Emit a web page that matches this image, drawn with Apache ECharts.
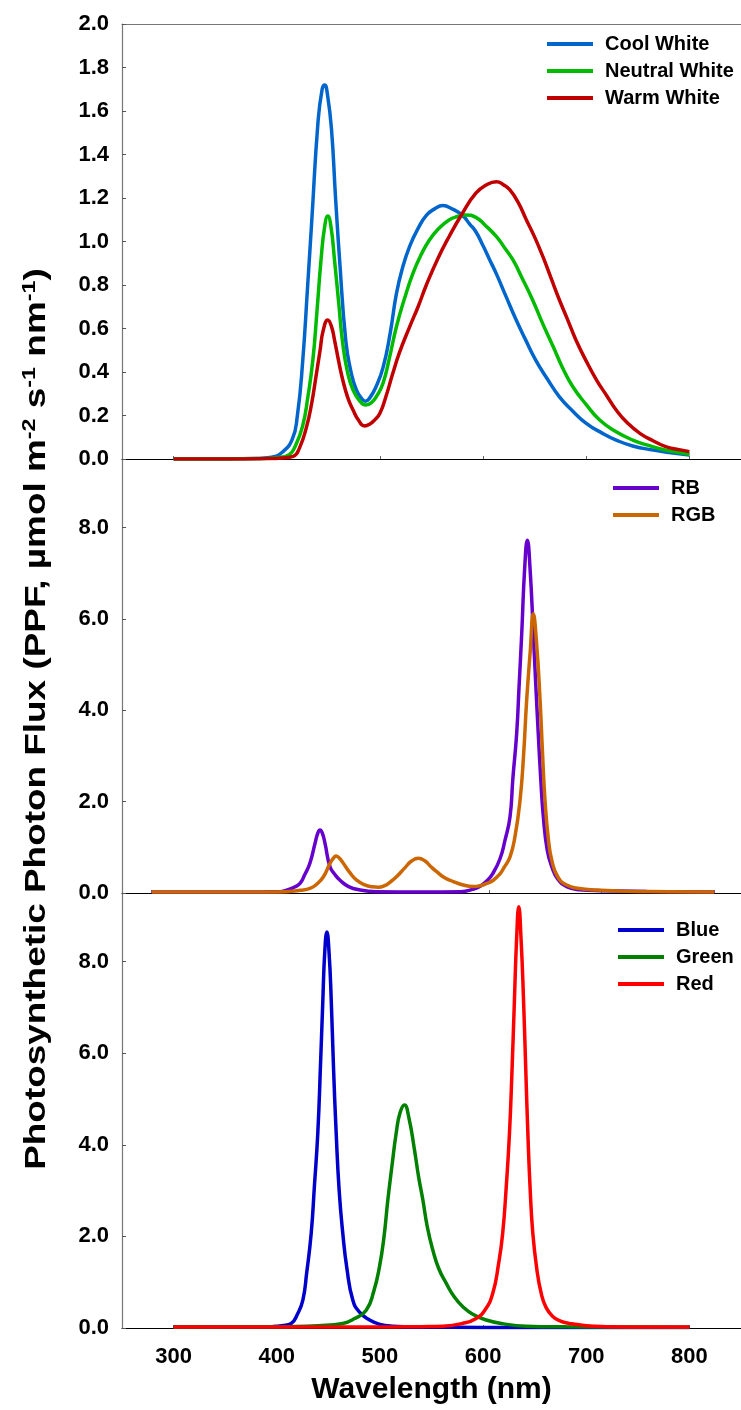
<!DOCTYPE html>
<html>
<head>
<meta charset="utf-8">
<title>LED spectra</title>
<script src="https://cdn.jsdelivr.net/npm/echarts@6/dist/echarts.min.js"></script>
<style>
  html, body { margin: 0; padding: 0; background: #fff; }
  #chart { width: 741px; height: 1410px; }
</style>
</head>
<body>
<div id="chart"></div>
<script>
// ---- Panel 1: white LEDs (wavelength nm / photon flux) ----
const coolWl  = [300,350,380,395,405,415,420,425,430,434,440,444,446.5,449,453,457,461,467,472,477,482,486,490,496,503,510,516,522,529,537,545,553,561,570,580,587,593,600,606,613,622,632,641,651,662,674,687,700,715,729,745,765,780,800];
const coolVal = [0,0,0.002,0.008,0.03,0.09,0.2,0.44,0.8,1.1,1.55,1.70,1.72,1.68,1.52,1.2,0.91,0.54,0.40,0.32,0.28,0.265,0.28,0.33,0.42,0.58,0.76,0.88,0.98,1.06,1.12,1.15,1.165,1.15,1.12,1.08,1.045,0.98,0.92,0.85,0.75,0.64,0.55,0.455,0.37,0.286,0.22,0.164,0.12,0.087,0.06,0.041,0.03,0.018];

const neutralWl  = [300,350,385,400,412,418,425,430,435,439,443,446.5,449.5,452.5,456,460,464,469,474,480,486.5,492,497,503,509,516,524,532,540,548,557,567,575,583,593,602,613,621,629,638,648,658,668,677,687,700,713,729,745,762,777,790,800];
const neutralVal = [0,0,0.002,0.006,0.02,0.06,0.15,0.28,0.455,0.68,0.92,1.07,1.117,1.07,0.915,0.72,0.53,0.39,0.317,0.27,0.248,0.26,0.29,0.348,0.46,0.608,0.74,0.854,0.94,1.007,1.06,1.099,1.115,1.122,1.111,1.075,1.022,0.97,0.915,0.83,0.731,0.62,0.516,0.42,0.332,0.25,0.179,0.125,0.087,0.06,0.041,0.03,0.022];

const warmWl  = [300,350,390,405,416,422,429,434,438,442,445,449.5,453,456,460,464,469,474,479,485,490,495,500,506,512.5,519,529,537,545,556,567,580,593,603,613,620,626,634,642,650,658,666,674,682,690,700,710,720,729,740,752,765,777,790,800];
const warmVal = [0,0,0.002,0.005,0.012,0.05,0.15,0.26,0.378,0.5,0.59,0.639,0.61,0.547,0.45,0.363,0.28,0.225,0.18,0.152,0.16,0.18,0.21,0.29,0.394,0.49,0.61,0.7,0.8,0.92,1.022,1.13,1.222,1.26,1.275,1.26,1.237,1.18,1.099,1.02,0.93,0.83,0.731,0.64,0.547,0.45,0.363,0.29,0.225,0.165,0.118,0.083,0.057,0.043,0.034];

// ---- Panel 2: mixed-colour LEDs ----
const rbWl  = [300,350,390,405,414.5,422,427,431.8,436,440.6,445.2,447.5,449.6,451.8,454,458.5,463,467.4,475,485.2,500,540,575,585,592,598,603,609.6,614,618.5,621,624.4,626.5,628.9,631.5,633.9,636.3,639.2,641.3,643.6,645.8,648.1,651.5,655.6,661,668.9,680,700,740,800];
const rbVal = [0.02,0.02,0.02,0.025,0.03,0.08,0.13,0.21,0.4,0.65,1.09,1.3,1.38,1.3,1.09,0.575,0.4,0.28,0.14,0.066,0.03,0.02,0.03,0.08,0.15,0.27,0.42,0.75,1.15,1.67,2.5,3.49,4.5,5.68,7.1,7.72,7.1,5.68,4.6,3.49,2.5,1.67,0.95,0.575,0.3,0.14,0.07,0.05,0.035,0.02];

const rgbWl  = [300,350,400,420,432,440.6,447,452.8,458.5,461.5,463.8,466.5,470.3,476,482.2,490,496,501.4,507,512,517.8,525,531,537,543,548,553.3,560,568.1,576,585.9,592,597.8,603.6,609.6,613,618.5,623,627.4,630.5,633.3,636.5,639.2,642,645.2,647.5,649.6,652.5,655.6,661,668.9,680,695.6,720,760,800];
const rgbVal = [0.02,0.02,0.02,0.03,0.06,0.1,0.2,0.36,0.65,0.76,0.81,0.77,0.65,0.45,0.28,0.17,0.135,0.125,0.16,0.24,0.36,0.55,0.7,0.76,0.7,0.58,0.466,0.34,0.25,0.18,0.14,0.16,0.21,0.28,0.42,0.55,0.79,1.25,2.03,3.0,4.22,5.3,6.11,5.5,4.22,3.0,2.03,1.2,0.72,0.35,0.175,0.1,0.066,0.04,0.03,0.02];

// ---- Panel 3: single-colour LEDs ----
const blueWl  = [300,350,380,396,405,414,420,425.3,429,433.4,436.5,439.8,442.5,444.7,446.5,448.6,450.7,452.8,455,457.6,460.5,464,468,473.7,480,490,500,512.5,540,600,700,800];
const blueVal = [0.02,0.02,0.025,0.03,0.05,0.1,0.3,0.61,1.2,2.07,3.1,4.26,5.8,7.17,8.2,8.65,8.2,7.17,5.7,4.26,3.0,2.07,1.3,0.61,0.35,0.175,0.08,0.04,0.02,0.01,0.01,0.01];

const greenWl  = [300,380,410,440,464,475,486.7,494,499.6,504,507.7,512,515.8,519.5,523.8,528,533.5,537.5,541.6,546,551.3,557,564.2,572,580.3,590,603,620,641.8,680,740,800];
const greenVal = [0.02,0.025,0.03,0.05,0.1,0.2,0.39,0.8,1.34,2.0,2.8,3.6,4.26,4.7,4.87,4.6,3.89,3.3,2.8,2.2,1.7,1.3,0.98,0.68,0.466,0.3,0.175,0.09,0.04,0.025,0.02,0.015];

const redWl  = [300,400,500,540,561,580,593.3,602,609.4,615,619,622.5,625.6,628,630.4,632.5,634.6,636.8,639.2,641.3,643.4,645.7,648.2,652,656.3,661,667.5,675,683.7,700,720,760,800];
const redVal = [0.02,0.02,0.02,0.03,0.04,0.1,0.21,0.4,0.76,1.4,2.07,3.1,4.26,5.6,7.17,8.5,9.2,8.5,7.17,5.7,4.26,3.0,2.07,1.3,0.76,0.45,0.25,0.15,0.1,0.05,0.03,0.02,0.02];

// ---- axis ticks ----
const wlTicks = [300, 400, 500, 600, 700, 800];
const whiteTicks = [0, 0.2, 0.4, 0.6, 0.8, 1.0, 1.2, 1.4, 1.6, 1.8, 2.0];
const ledTicks = [0, 2, 4, 6, 8];

const FONT = '"Liberation Sans", Arial, Helvetica, sans-serif';
const pairs = (xs, ys) => xs.map((x, i) => [x, ys[i]]);

const chart = echarts.init(document.getElementById('chart'), null, { renderer: 'canvas' });

const GRID_LEFT = 122;
const grids = [
  { left: GRID_LEFT, right: 0, top: 24, height: 435 },
  { left: GRID_LEFT, right: 0, top: 459, height: 434 },
  { left: GRID_LEFT, right: 0, top: 893, height: 435 }
];

function xAxisFor(gridIndex, min, max, showLabels) {
  return {
    type: 'value', gridIndex, min, max,
    splitLine: { show: false },
    axisLine: { show: true, onZero: false, lineStyle: { color: '#000', width: 1.2 } },
    axisTick: { show: true, inside: true, length: 3, customValues: wlTicks, lineStyle: { color: '#666' } },
    axisLabel: {
      show: showLabels, customValues: wlTicks, margin: 18,
      fontFamily: FONT, fontWeight: 'bold', fontSize: 22, color: '#000'
    }
  };
}

function yAxisFor(gridIndex, max, ticks) {
  return {
    type: 'value', gridIndex, min: 0, max,
    splitLine: { show: false },
    axisLine: { show: true, lineStyle: { color: '#777', width: 1.2 } },
    axisTick: { show: true, inside: true, length: 4, customValues: ticks, lineStyle: { color: '#555' } },
    axisLabel: {
      customValues: ticks, margin: 13,
      fontFamily: FONT, fontWeight: 'bold', fontSize: 22, color: '#000',
      formatter: v => v.toFixed(1)
    }
  };
}

const bottomX = xAxisFor(2, 250, 850, true);
bottomX.name = 'Wavelength (nm)';
bottomX.nameLocation = 'middle';
bottomX.nameGap = 47;
bottomX.nameTextStyle = { fontFamily: FONT, fontWeight: 'bold', fontSize: 30, color: '#000' };

// top border of the upper panel
const topBorder = {
  type: 'value', gridIndex: 0, min: 250, max: 850, position: 'top',
  splitLine: { show: false },
  axisLine: { show: true, onZero: false, lineStyle: { color: '#777', width: 1.2 } },
  axisTick: { show: false }, axisLabel: { show: false }
};

function line(name, color, xi, yi, xs, ys) {
  return {
    name, type: 'line', xAxisIndex: xi, yAxisIndex: yi,
    data: pairs(xs, ys), showSymbol: false, symbol: 'none',
    smooth: 0.5,
    lineStyle: { color, width: 3.5 }, itemStyle: { color },
    animation: false
  };
}

function legendFor(names, left, top) {
  return {
    data: names, orient: 'vertical', left, top, padding: 0,
    icon: 'rect', itemWidth: 46, itemHeight: 4, itemGap: 7,
    selectedMode: false,
    textStyle: {
      fontFamily: FONT, fontWeight: 'bold', fontSize: 20, lineHeight: 20, color: '#000',
      padding: [0, 0, 0, 7]
    }
  };
}

chart.setOption({
  backgroundColor: '#fff',
  animation: false,
  grid: grids,
  xAxis: [
    xAxisFor(0, 250, 850, false),
    topBorder,
    xAxisFor(1, 273.6, 823.8, false),
    bottomX
  ],
  yAxis: [
    yAxisFor(0, 2, whiteTicks),
    yAxisFor(1, 9.5, ledTicks),
    yAxisFor(2, 9.5, ledTicks)
  ],
  legend: [
    legendFor(['Cool White', 'Neutral White', 'Warm White'], 547, 34),
    legendFor(['RB', 'RGB'], 613, 478),
    legendFor(['Blue', 'Green', 'Red'], 618, 920)
  ],
  series: [
    line('Cool White', '#0066CC', 0, 0, coolWl, coolVal),
    line('Neutral White', '#00BB00', 0, 0, neutralWl, neutralVal),
    line('Warm White', '#C00000', 0, 0, warmWl, warmVal),
    line('RB', '#6600CC', 2, 1, rbWl, rbVal),
    line('RGB', '#CC6600', 2, 1, rgbWl, rgbVal),
    line('Blue', '#0000CC', 3, 2, blueWl, blueVal),
    line('Green', '#008000', 3, 2, greenWl, greenVal),
    line('Red', '#FF0000', 3, 2, redWl, redVal)
  ],
  graphic: [{
    type: 'text',
    x: 37, y: 719,
    rotation: Math.PI / 2,
    scaleX: 1.23,
    style: {
      text: 'Photosynthetic Photon Flux (PPF, µmol m{s|-2} s{s|-1} nm{s|-1})',
      fontFamily: FONT, fontWeight: 'bold', fontSize: 30, fill: '#000',
      align: 'center', verticalAlign: 'middle',
      rich: {
        s: { fontFamily: FONT, fontWeight: 'bold', fontSize: 19, fill: '#000', padding: [0, 0, 14, 0] }
      }
    }
  }]
});
</script>
</body>
</html>
